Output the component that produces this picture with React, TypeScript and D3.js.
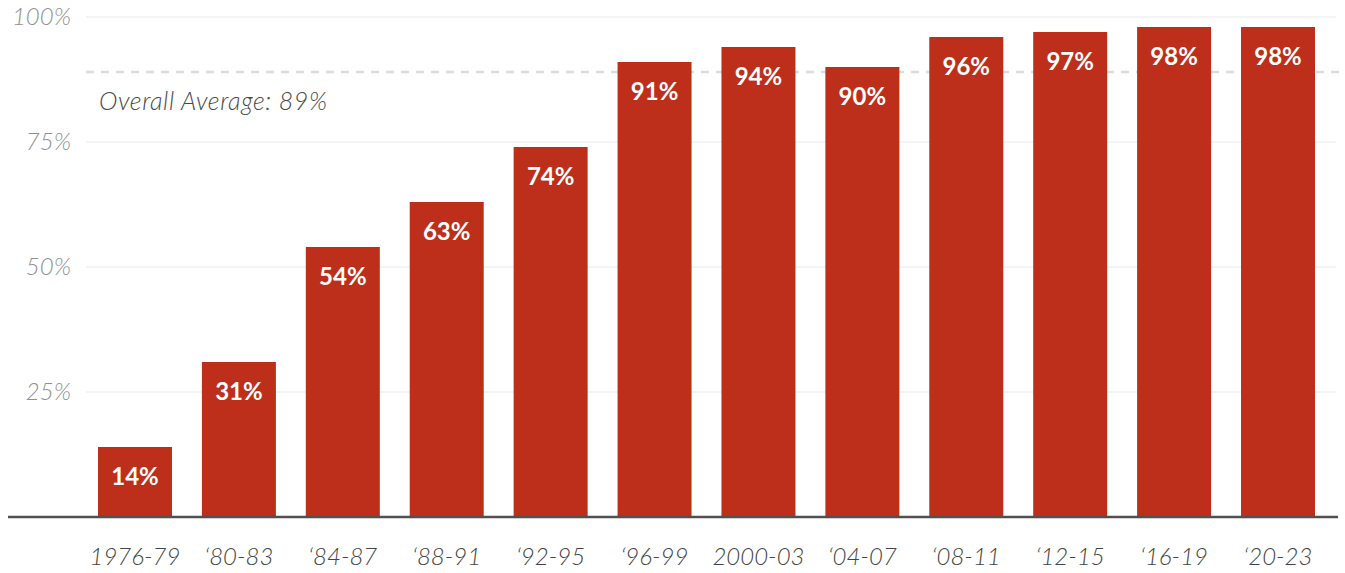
import React from 'react'
import * as d3 from 'd3'

const categories = ['1976-79', '\u201880-83', '\u201884-87', '\u201888-91', '\u201892-95', '\u201896-99', '2000-03', '\u201804-07', '\u201808-11', '\u201812-15', '\u201816-19', '\u201820-23']
const values = [14, 31, 54, 63, 74, 91, 94, 90, 96, 97, 98, 98]
const yTicks = [25, 50, 75, 100]
const average = 89
const averageLabel = 'Overall Average: 89%'

const W = 1345
const H = 573

export default function App() {
  const x = d3.scaleBand<string>()
    .domain(categories)
    .range([86, 1327])
    .paddingInner(0.288)
    .paddingOuter(0.1155)

  const y = d3.scaleLinear()
    .domain([0, 100])
    .range([517, 17])

  const font = 'Lato, "Open Sans", sans-serif'

  return (
    <svg width={W} height={H} style={{ position: 'absolute', left: 0, top: 0, display: 'block' }}>
      {/* grid */}
      {yTicks.map((t) => (
        <g key={t}>
          <line x1={86} x2={1336} y1={y(t)} y2={y(t)} stroke="#f0f0f0" strokeWidth={1.5} />
          <text x={71} y={y(t) + 8} textAnchor="end" fill="#8f8f8f" fontFamily={font}
            fontStyle="italic" fontWeight={300} fontSize={24}>{t}%</text>
        </g>
      ))}

      {/* average line */}
      <line x1={86} x2={1345} y1={y(average)} y2={y(average)} stroke="#dcdcdc"
        strokeWidth={2.5} strokeDasharray="8,7" />
      <text x={99} y={110} fill="#4a4a4a" fontFamily={font} fontStyle="italic" fontWeight={300}
        fontSize={25} letterSpacing={0.6}>{averageLabel}</text>

      {/* bars */}
      {categories.map((c, i) => (
        <g key={c}>
          <rect x={x(c)} y={y(values[i])} width={x.bandwidth()} height={y(0) - y(values[i])}
            fill="#bd2f1b" />
          <text x={(x(c) ?? 0) + x.bandwidth() / 2} y={y(values[i]) + 38} textAnchor="middle"
            fill="#fff" fontFamily={font} fontWeight={700} fontSize={24}>{values[i]}%</text>
          <text x={(x(c) ?? 0) + x.bandwidth() / 2} y={565} textAnchor="middle" fill="#444"
            fontFamily={font} fontStyle="italic" fontWeight={300} fontSize={24}>{c}</text>
        </g>
      ))}

      {/* baseline */}
      <line x1={8} x2={1338} y1={y(0)} y2={y(0)} stroke="#505050" strokeWidth={2.5} />
    </svg>
  )
}
